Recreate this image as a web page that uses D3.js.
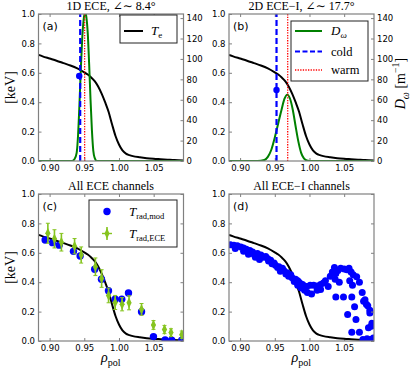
<!DOCTYPE html>
<html>
<head>
<meta charset="utf-8">
<script src="https://cdn.jsdelivr.net/npm/d3@7"></script>
<style>
  body { margin: 0; background: #fff; }
  text { font-family: 'DejaVu Sans', sans-serif; }
  .serif { font-family: 'Liberation Serif', 'DejaVu Serif', serif; }
</style>
</head>
<body>
<div id="chart"></div>
<script>
// electron temperature profile (keV)
const rhoTe = [0.884, 0.890, 0.900, 0.910, 0.920, 0.930, 0.940, 0.950, 0.955, 0.960, 0.965, 0.970, 0.975, 0.980, 0.985, 0.990, 0.995, 1.000, 1.005, 1.010, 1.015, 1.020, 1.030, 1.040, 1.050, 1.060, 1.070, 1.080, 1.093]
const te = [0.722, 0.712, 0.697, 0.682, 0.666, 0.650, 0.630, 0.603, 0.588, 0.568, 0.543, 0.507, 0.458, 0.400, 0.335, 0.250, 0.170, 0.112, 0.072, 0.050, 0.040, 0.033, 0.025, 0.019, 0.015, 0.012, 0.009, 0.006, 0.004]

// birthplace distribution D_omega (1/m), 1D ECE
const rhoDwA = [0.884, 0.932, 0.936, 0.939, 0.941, 0.943, 0.945, 0.947, 0.949, 0.951, 0.953, 0.955, 0.957, 0.959, 0.961, 0.963, 0.965, 0.968, 1.093]
const dwA = [0, 0, 2, 8, 25, 55, 90, 120, 138, 146, 141, 125, 95, 60, 30, 10, 3, 0, 0]
// 2D ECE-I
const rhoDwB = [0.884, 0.925, 0.935, 0.940, 0.945, 0.950, 0.955, 0.960, 0.964, 0.968, 0.972, 0.976, 0.980, 0.984, 0.988, 0.992, 0.996, 1.000, 1.093]
const dwB = [0, 0, 1, 4, 11, 23, 37, 51, 61, 65, 61, 50, 34, 19, 8, 2.5, 0.5, 0, 0]

const coldA = 0.9441
const warmA = 0.9505
const coldB = 0.9525
const warmB = 0.9686
const dotA = [0.9427, 0.578]
const dotB = [0.9525, 0.483]

// all ECE channels
const rhoMod = [0.8936, 0.9042, 0.9138, 0.9344, 0.9440, 0.9650, 0.9748, 0.9849, 0.9945, 1.0040, 1.0137, 1.0325, 1.0497, 1.0665, 1.0760, 1.0905]
const tMod = [0.687, 0.669, 0.652, 0.610, 0.578, 0.488, 0.420, 0.342, 0.284, 0.284, 0.327, 0.199, 0.030, 0.007, 0.006, 0.005]
const rhoEce = [0.8975, 0.9070, 0.9170, 0.9360, 0.9455, 0.9660, 0.9750, 0.9850, 0.9945, 1.0045, 1.0145, 1.0325, 1.0497, 1.0656, 1.0750, 1.0905]
const tEce = [0.733, 0.695, 0.672, 0.645, 0.585, 0.505, 0.425, 0.310, 0.262, 0.250, 0.260, 0.215, 0.109, 0.078, 0.057, 0.043]
const errEce = [0.068, 0.062, 0.060, 0.052, 0.055, 0.060, 0.060, 0.050, 0.048, 0.045, 0.048, 0.040, 0.030, 0.028, 0.026, 0.025]

// all ECE-I channels
const rhoEcei = [0.886, 0.891, 0.896, 0.901, 0.905, 0.909, 0.914, 0.918, 0.920, 0.925, 0.930, 0.934, 0.937, 0.940, 0.944, 0.949, 0.951, 0.956, 0.961, 0.963, 0.968, 0.973, 0.975, 0.980, 0.983, 0.985, 0.987, 0.990,
  0.893, 0.905, 0.912, 0.922, 0.928, 0.941, 0.946, 0.954, 0.958, 0.966, 0.970, 0.978, 0.983, 0.988,
  0.992, 0.996, 1.001, 1.006, 1.011, 1.016, 1.020, 1.023, 1.027, 0.997, 1.003, 1.011, 1.016, 0.993,
  1.030, 1.033, 1.036, 1.038, 1.041, 1.045, 1.050, 1.054, 1.057, 1.060, 1.063, 1.037, 1.043, 1.058, 1.062, 1.068, 1.072, 1.076, 1.080, 1.084, 1.087, 1.090,
  1.038, 1.049, 1.061, 1.065, 1.055, 1.067, 1.061, 1.072, 1.078, 1.082, 1.087, 1.089, 1.091, 1.085, 1.077, 1.083, 1.088, 1.092]
const tEcei = [0.655, 0.652, 0.648, 0.640, 0.632, 0.625, 0.615, 0.605, 0.590, 0.595, 0.585, 0.570, 0.575, 0.560, 0.550, 0.530, 0.515, 0.505, 0.495, 0.480, 0.465, 0.450, 0.430, 0.420, 0.410, 0.400, 0.390, 0.385,
  0.630, 0.610, 0.590, 0.570, 0.555, 0.545, 0.525, 0.500, 0.475, 0.455, 0.440, 0.405, 0.380, 0.360,
  0.375, 0.370, 0.380, 0.380, 0.375, 0.385, 0.395, 0.410, 0.370, 0.330, 0.320, 0.345, 0.350, 0.345,
  0.440, 0.470, 0.500, 0.460, 0.480, 0.495, 0.490, 0.485, 0.495, 0.470, 0.450, 0.420, 0.400, 0.410, 0.380, 0.437, 0.400, 0.330, 0.280, 0.240, 0.190, 0.120,
  0.300, 0.300, 0.300, 0.233, 0.180, 0.146, 0.060, 0.060, 0.270, 0.250, 0.210, 0.100, 0.110, 0.090, 0.010, 0.015, 0.010, 0.020]

const xTicks = [0.90, 0.95, 1.00, 1.05]
const yTicks = [0, 0.2, 0.4, 0.6, 0.8, 1.0]
const dwTicks = [0, 20, 40, 60, 80, 100, 120, 140]

const width = 415
const height = 369
const pw = 145
const ph = 147
const gray = '#808080'
const ecGreen = '#86c41f'

const svg = d3.select('#chart').append('svg')
  .attr('width', width)
  .attr('height', height)

const teLine = (x, y) => d3.line()
  .x((d, i) => x(rhoTe[i]))
  .y(d => y(d))
  .curve(d3.curveMonotoneX)

const panel = (x0, y0, name) => {
  const x = d3.scaleLinear().domain([0.884, 1.093]).range([x0, x0 + pw])
  const y = d3.scaleLinear().domain([0, 1]).range([y0 + ph, y0])
  const g = svg.append('g')

  g.append('clipPath').attr('id', 'clip' + name)
    .append('rect')
    .attr('x', x0).attr('y', y0).attr('width', pw).attr('height', ph)

  const styleAxis = (sel) => {
    sel.select('.domain').remove()
    sel.selectAll('.tick line').attr('stroke', gray)
    sel.selectAll('.tick text').attr('fill', '#000').style('font-size', '8.5px')
      .style('font-family', "'DejaVu Sans', sans-serif")
  }

  g.append('g').attr('transform', `translate(0,${y0 + ph})`)
    .call(d3.axisBottom(x).tickValues(xTicks).tickSize(-3).tickPadding(3.5).tickFormat(d3.format('.2f')))
    .call(styleAxis)
  g.append('g').attr('transform', `translate(0,${y0})`)
    .call(d3.axisTop(x).tickValues(xTicks).tickSize(-3).tickFormat(''))
    .call(styleAxis)
  g.append('g').attr('transform', `translate(${x0},0)`)
    .call(d3.axisLeft(y).tickValues(yTicks).tickSize(-3).tickPadding(3.5).tickFormat(d3.format('.1f')))
    .call(styleAxis)

  const plot = g.append('g').attr('clip-path', `url(#clip${name})`)
  return { x, y, g, plot, styleAxis }
}

const frame = (p) => {
  p.g.append('rect')
    .attr('x', p.x.range()[0]).attr('y', p.y.range()[1])
    .attr('width', pw).attr('height', ph)
    .attr('fill', 'none').attr('stroke', gray).attr('stroke-width', 1.2)
}

const topPanel = (x0, name, rhoDw, dw, cold, warm, dot) => {
  const p = panel(x0, 14, name)
  const yDw = d3.scaleLinear().domain([0, 144]).range([14 + ph, 14])
  p.g.append('g').attr('transform', `translate(${x0 + pw},0)`)
    .call(d3.axisRight(yDw).tickValues(dwTicks).tickSize(-3).tickPadding(3))
    .call(p.styleAxis)

  p.plot.append('path')
    .datum(te)
    .attr('d', teLine(p.x, p.y))
    .attr('fill', 'none').attr('stroke', '#000').attr('stroke-width', 2)

  p.plot.append('path')
    .datum(dw)
    .attr('d', d3.line().x((d, i) => p.x(rhoDw[i])).y(d => yDw(d)).curve(d3.curveMonotoneX))
    .attr('fill', 'none').attr('stroke', '#008000').attr('stroke-width', 2)

  p.plot.append('line')
    .attr('x1', p.x(cold)).attr('x2', p.x(cold))
    .attr('y1', p.y(0)).attr('y2', p.y(1))
    .attr('stroke', '#0000ff').attr('stroke-width', 2.2).attr('stroke-dasharray', '6,3')

  p.plot.append('line')
    .attr('x1', p.x(warm)).attr('x2', p.x(warm))
    .attr('y1', p.y(0)).attr('y2', p.y(1))
    .attr('stroke', '#ff0000').attr('stroke-width', 1.3).attr('stroke-dasharray', '1.3,1.3')

  p.plot.append('circle')
    .attr('cx', p.x(dot[0])).attr('cy', p.y(dot[1])).attr('r', 3.2)
    .attr('fill', '#0000ff')

  frame(p)
  return p
}

const addLabel = (p, label) => {
  p.g.append('text')
    .attr('x', p.x.range()[0] + 4).attr('y', p.y.range()[1] + 16)
    .style('font-size', '11px')
    .text(label)
}

const addTitle = (p, title) => {
  p.g.append('text')
    .attr('class', 'serif')
    .attr('x', p.x.range()[0] + pw / 2).attr('y', p.y.range()[1] - 4.5)
    .attr('text-anchor', 'middle')
    .style('font-size', '12px')
    .text(title)
}

const kevLabel = (p) => {
  const cy = p.y.range()[1] + ph / 2
  p.g.append('text')
    .attr('class', 'serif')
    .attr('transform', `translate(15,${cy}) rotate(-90)`)
    .attr('text-anchor', 'middle')
    .style('font-size', '14px')
    .text('[keV]')
}

const rhoLabel = (p) => {
  const t = p.g.append('text')
    .attr('class', 'serif')
    .attr('x', p.x.range()[0] + pw / 2 - 10).attr('y', 362)
    .style('font-size', '14px')
  t.append('tspan').style('font-style', 'italic').text('ρ')
  t.append('tspan').attr('dy', 4).style('font-size', '10px').text('pol')
}

const legendBox = (p, x, y, w, h) => {
  p.g.append('rect')
    .attr('x', x).attr('y', y).attr('width', w).attr('height', h)
    .attr('fill', '#fff').attr('stroke', '#222').attr('stroke-width', 1)
}

const diamond = d3.symbol(d3.symbolDiamond, 34)

// (a)
const pa = topPanel(38.5, 'a', rhoDwA, dwA, coldA, warmA, dotA)
addLabel(pa, '(a)')
addTitle(pa, '1D ECE, ∠∼ 8.4°')
kevLabel(pa)
legendBox(pa, 120, 15, 57, 28)
pa.g.append('line').attr('x1', 124).attr('x2', 143).attr('y1', 31).attr('y2', 31)
  .attr('stroke', '#000').attr('stroke-width', 2)
const la = pa.g.append('text').attr('class', 'serif').attr('x', 151).attr('y', 35).style('font-size', '13px')
la.append('tspan').style('font-style', 'italic').text('T')
la.append('tspan').attr('dy', 3).style('font-size', '9px').text('e')

// (b)
const pb = topPanel(229, 'b', rhoDwB, dwB, coldB, warmB, dotB)
addLabel(pb, '(b)')
addTitle(pb, '2D ECE−I, ∠∼ 17.7°')
legendBox(pb, 291, 21, 77, 60)
const legB = [
  { y: 31, stroke: '#008000', w: 2, dash: null },
  { y: 51.5, stroke: '#0000ff', w: 2.2, dash: '5,2.5' },
  { y: 70, stroke: '#ff0000', w: 1.3, dash: '1.3,1.3' }
]
legB.forEach(d => {
  pb.g.append('line').attr('x1', 295).attr('x2', 322).attr('y1', d.y).attr('y2', d.y)
    .attr('stroke', d.stroke).attr('stroke-width', d.w).attr('stroke-dasharray', d.dash)
})
const lb1 = pb.g.append('text').attr('class', 'serif').attr('x', 331).attr('y', 35).style('font-size', '13px')
lb1.append('tspan').style('font-style', 'italic').text('D')
lb1.append('tspan').attr('dy', 3).style('font-size', '9px').style('font-style', 'italic').text('ω')
pb.g.append('text').attr('class', 'serif').attr('x', 331).attr('y', 55.5).style('font-size', '12.5px').text('cold')
pb.g.append('text').attr('class', 'serif').attr('x', 331).attr('y', 74).style('font-size', '12.5px').text('warm')

const dwLabel = pb.g.append('text')
  .attr('class', 'serif')
  .attr('transform', `translate(405,${14 + ph / 2 - 4}) rotate(-90)`)
  .attr('text-anchor', 'middle')
  .style('font-size', '14px')
dwLabel.append('tspan').style('font-style', 'italic').text('D')
dwLabel.append('tspan').attr('dy', 4).style('font-size', '10px').style('font-style', 'italic').text('ω')
dwLabel.append('tspan').attr('dy', -4).text(' [m')
dwLabel.append('tspan').attr('dy', -6).style('font-size', '10px').text('−1')
dwLabel.append('tspan').attr('dy', 6).text(']')

// (c)
const pc = panel(38.5, 194, 'c')
pc.g.append('g').attr('transform', `translate(${38.5 + pw},0)`)
  .call(d3.axisRight(pc.y).tickValues(yTicks).tickSize(-3).tickFormat(''))
  .call(pc.styleAxis)
pc.plot.append('path').datum(te).attr('d', teLine(pc.x, pc.y))
  .attr('fill', 'none').attr('stroke', '#000').attr('stroke-width', 2)
pc.plot.selectAll('circle.mod').data(tMod).join('circle')
  .attr('class', 'mod')
  .attr('cx', (d, i) => pc.x(rhoMod[i])).attr('cy', d => pc.y(d)).attr('r', 3.7)
  .attr('fill', '#0000ff')
const ece = pc.plot.selectAll('g.ece').data(tEce).join('g').attr('class', 'ece')
ece.append('line')
  .attr('x1', (d, i) => pc.x(rhoEce[i])).attr('x2', (d, i) => pc.x(rhoEce[i]))
  .attr('y1', (d, i) => pc.y(d - errEce[i])).attr('y2', (d, i) => pc.y(d + errEce[i]))
  .attr('stroke', ecGreen).attr('stroke-width', 1.6)
ece.append('line')
  .attr('x1', (d, i) => pc.x(rhoEce[i] - 0.003)).attr('x2', (d, i) => pc.x(rhoEce[i] + 0.003))
  .attr('y1', d => pc.y(d)).attr('y2', d => pc.y(d))
  .attr('stroke', ecGreen).attr('stroke-width', 1.4)
ece.each(function (d, i) {
  [d - errEce[i], d + errEce[i]].forEach(v => {
    d3.select(this).append('line')
      .attr('x1', pc.x(rhoEce[i]) - 2).attr('x2', pc.x(rhoEce[i]) + 2)
      .attr('y1', pc.y(v)).attr('y2', pc.y(v))
      .attr('stroke', ecGreen).attr('stroke-width', 1)
  })
})
ece.append('path')
  .attr('d', diamond)
  .attr('transform', (d, i) => `translate(${pc.x(rhoEce[i])},${pc.y(d)}) scale(0.8,1)`)
  .attr('fill', ecGreen)
frame(pc)
addLabel(pc, '(c)')
addTitle(pc, 'All ECE channels')
kevLabel(pc)
rhoLabel(pc)

legendBox(pc, 89, 200, 88, 47)
pc.g.append('circle').attr('cx', 107).attr('cy', 211.5).attr('r', 3.7).attr('fill', '#0000ff')
pc.g.append('line').attr('x1', 107).attr('x2', 107).attr('y1', 227).attr('y2', 240)
  .attr('stroke', ecGreen).attr('stroke-width', 1.6)
pc.g.append('line').attr('x1', 102).attr('x2', 112).attr('y1', 233.5).attr('y2', 233.5)
  .attr('stroke', ecGreen).attr('stroke-width', 1.4)
pc.g.append('path').attr('d', diamond)
  .attr('transform', 'translate(107,233.5) scale(0.8,1)').attr('fill', ecGreen)
const lc1 = pc.g.append('text').attr('class', 'serif').attr('x', 129).attr('y', 216).style('font-size', '13px')
lc1.append('tspan').style('font-style', 'italic').text('T')
lc1.append('tspan').attr('dy', 3).style('font-size', '8.5px').text('rad,mod')
const lc2 = pc.g.append('text').attr('class', 'serif').attr('x', 129).attr('y', 238).style('font-size', '13px')
lc2.append('tspan').style('font-style', 'italic').text('T')
lc2.append('tspan').attr('dy', 3).style('font-size', '8.5px').text('rad,ECE')

// (d)
const pd = panel(229, 194, 'd')
pd.g.append('g').attr('transform', `translate(${229 + pw},0)`)
  .call(d3.axisRight(pd.y).tickValues(yTicks).tickSize(-3).tickFormat(''))
  .call(pd.styleAxis)
pd.plot.append('path').datum(te).attr('d', teLine(pd.x, pd.y))
  .attr('fill', 'none').attr('stroke', '#000').attr('stroke-width', 2)
pd.plot.selectAll('circle.ecei').data(tEcei).join('circle')
  .attr('class', 'ecei')
  .attr('cx', (d, i) => pd.x(rhoEcei[i])).attr('cy', d => pd.y(d)).attr('r', 3.5)
  .attr('fill', '#0000ff')
frame(pd)
addLabel(pd, '(d)')
addTitle(pd, 'All ECE−I channels')
rhoLabel(pd)
</script>
</body>
</html>
